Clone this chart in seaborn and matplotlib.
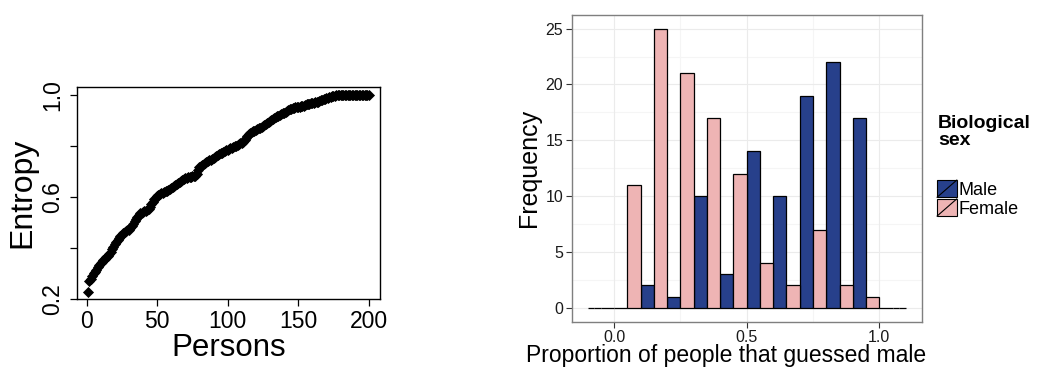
import numpy as np
import pandas as pd
import seaborn as sns
import matplotlib.pyplot as plt
from matplotlib.patches import Patch, Rectangle
from matplotlib.lines import Line2D
from matplotlib.legend_handler import HandlerBase

# left panel: entropy per person
persons = list(range(1, 201))
entropy = [
    0.226, 0.271, 0.280, 0.290, 0.300, 0.307, 0.315, 0.324, 0.332, 0.340,
    0.345, 0.352, 0.358, 0.364, 0.370, 0.377, 0.385, 0.395, 0.405, 0.415,
    0.422, 0.430, 0.438, 0.446, 0.452, 0.458, 0.462, 0.466, 0.469, 0.472,
    0.478, 0.486, 0.495, 0.505, 0.515, 0.523, 0.530, 0.535, 0.538, 0.540,
    0.543, 0.546, 0.549, 0.553, 0.560, 0.570, 0.580, 0.590, 0.597, 0.602,
    0.607, 0.611, 0.614, 0.616, 0.618, 0.621, 0.624, 0.627, 0.630, 0.634,
    0.639, 0.644, 0.648, 0.652, 0.656, 0.660, 0.663, 0.666, 0.669, 0.672,
    0.674, 0.676, 0.678, 0.679, 0.680, 0.681, 0.682, 0.690, 0.705, 0.716,
    0.721, 0.725, 0.729, 0.733, 0.737, 0.740, 0.743, 0.746, 0.749, 0.752,
    0.755, 0.759, 0.763, 0.767, 0.770, 0.773, 0.776, 0.779, 0.782, 0.785,
    0.787, 0.790, 0.792, 0.795, 0.797, 0.800, 0.803, 0.806, 0.809, 0.812,
    0.816, 0.822, 0.830, 0.840, 0.846, 0.850, 0.853, 0.856, 0.859, 0.862,
    0.865, 0.868, 0.871, 0.875, 0.878, 0.882, 0.885, 0.888, 0.891, 0.895,
    0.899, 0.903, 0.907, 0.911, 0.915, 0.918, 0.921, 0.924, 0.927, 0.930,
    0.933, 0.936, 0.939, 0.942, 0.944, 0.946, 0.948, 0.950, 0.951, 0.952,
    0.953, 0.954, 0.955, 0.957, 0.959, 0.962, 0.964, 0.965, 0.966, 0.968,
    0.969, 0.970, 0.972, 0.973, 0.975, 0.977, 0.979, 0.981, 0.983, 0.985,
    0.987, 0.989, 0.991, 0.993, 0.995, 0.996, 0.997, 0.998, 0.999, 0.999,
    1.000, 1.000, 1.000, 1.000, 1.000, 1.000, 1.000, 1.000, 1.000, 1.000,
    1.000, 1.000, 1.000, 1.000, 1.000, 1.000, 1.000, 1.000, 1.000, 1.000,
]

# right panel: histogram counts per bin (binwidth 0.1)
bin_centers = [0.0, 0.1, 0.2, 0.3, 0.4, 0.5, 0.6, 0.7, 0.8, 0.9, 1.0]
female_counts = [0, 11, 25, 21, 17, 12, 4, 2, 7, 2, 1]
male_counts = [0, 2, 1, 10, 3, 14, 10, 19, 22, 17, 0]
bin_edges = [-0.1] + [round(-0.05 + 0.1 * k, 2) for k in range(12)] + [1.1]
sex_levels = ["Male", "Female"]
sex_colors = {"Male": "#27408B", "Female": "#EEB4B4"}

hist_df = pd.DataFrame({
    "prop": bin_centers * 2,
    "count": female_counts + male_counts,
    "sex": ["Female"] * len(bin_centers) + ["Male"] * len(bin_centers),
})
ent_df = pd.DataFrame({"person": persons, "entropy": entropy})

sns.set_style("white")
plt.rcParams["font.family"] = ["Liberation Sans", "DejaVu Sans"]
plt.rcParams["text.color"] = "black"
plt.rcParams["axes.labelcolor"] = "black"

W, H = 1039, 367
fig = plt.figure(figsize=(W / 100, H / 100), dpi=100)


def px_axes(l, t, r, b):
    return fig.add_axes([l / W, 1 - b / H, (r - l) / W, (b - t) / H])


# ---- left: base-R style scatter
ax1 = px_axes(76.7, 86.7, 380, 299.3)
sns.scatterplot(data=ent_df, x="person", y="entropy", ax=ax1, marker="D",
                s=32, color="black", linewidth=0, legend=False)
ax1.set_xlim(-6.96, 207.96)
ax1.set_ylim(0.199, 1.031)
ax1.set_xticks([0, 50, 100, 150, 200])
ax1.set_yticks([0.2, 0.4, 0.6, 0.8, 1.0])
ax1.set_yticklabels(["0.2", "", "0.6", "", "1.0"], rotation=90, va="center")
for s in ax1.spines.values():
    s.set_color("black")
    s.set_linewidth(1.0)
ax1.tick_params(axis="both", direction="out", length=5, width=0.9,
                color="black", labelsize=16.5, labelcolor="black")
ax1.tick_params(axis="x", pad=3, bottom=True)
ax1.tick_params(axis="y", pad=4, left=True)
ax1.set_xlabel("Persons", fontsize=22.5)
ax1.set_ylabel("Entropy", fontsize=23)
ax1.xaxis.set_label_coords(0.5, -0.158)
ax1.yaxis.set_label_coords(-0.13, 0.5)

# ---- right: ggplot-like dodged histogram
ax2 = px_axes(571.7, 14.7, 921.7, 321.7)
ax2.set_axisbelow(True)
for v in [0.25, 0.75]:
    ax2.axvline(v, color="#F5F5F5", lw=0.8, zorder=0)
for v in np.arange(2.5, 26, 5):
    ax2.axhline(v, color="#F5F5F5", lw=0.8, zorder=0)
ax2.grid(True, color="#EBEBEB", lw=0.8)
sns.histplot(data=hist_df, x="prop", weights="count", hue="sex",
             hue_order=["Female", "Male"], palette=sex_colors, bins=bin_edges,
             multiple="dodge", shrink=1, alpha=1, edgecolor="black",
             linewidth=0.9, legend=False, ax=ax2)
ax2.set_xlim(-0.16, 1.16)
ax2.set_ylim(-1.25, 26.25)
ax2.set_xticks([0.0, 0.5, 1.0])
ax2.set_xticklabels(["0.0", "0.5", "1.0"])
ax2.set_yticks([0, 5, 10, 15, 20, 25])
for s in ax2.spines.values():
    s.set_color("#7F7F7F")
    s.set_linewidth(1.0)
ax2.tick_params(axis="both", direction="out", length=4, width=0.8,
                color="#333333", labelsize=11.5, labelcolor="#1A1A1A", pad=2)
ax2.tick_params(bottom=True, left=True)
ax2.set_xlabel("Proportion of people that guessed male", fontsize=16.5)
ax2.set_ylabel("Frequency", fontsize=18)
ax2.xaxis.set_label_coords(0.44, -0.072)
ax2.yaxis.set_label_coords(-0.088, 0.5)


class KeyHandler(HandlerBase):
    def create_artists(self, legend, orig_handle, xdescent, ydescent,
                       width, height, fontsize, trans):
        x0, y0 = -xdescent, -ydescent
        r = Rectangle((x0, y0), width, height,
                      facecolor=orig_handle.get_facecolor(),
                      edgecolor="black", lw=0.8, transform=trans)
        ln = Line2D([x0, x0 + width], [y0, y0 + height], color="black",
                    lw=0.8, transform=trans)
        return [r, ln]


fig.text(938 / W, 1 - 115 / H, "Biological\nsex", fontsize=14,
         fontweight="bold", ha="left", va="top", linespacing=1.0)
handles = [Patch(facecolor=sex_colors[k]) for k in sex_levels]
leg = fig.legend(handles, sex_levels, loc="upper left",
                 bbox_to_anchor=(937 / W, 1 - 180 / H), frameon=False,
                 fontsize=13, handlelength=1.1, handleheight=1.1,
                 handletextpad=0.1, labelspacing=0.0, borderpad=0,
                 borderaxespad=0, handler_map={Patch: KeyHandler()})

fig.savefig("out.png", dpi=100)
